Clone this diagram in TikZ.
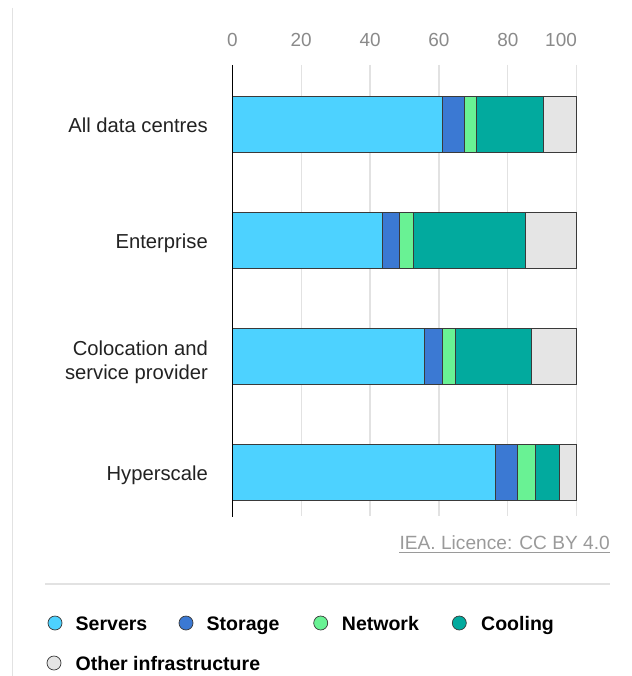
\documentclass[tikz,border=0pt]{standalone}
\usepackage{fontspec}
\setmainfont{Liberation Sans}
\definecolor{cServ}{HTML}{4DD2FF}
\definecolor{cStor}{HTML}{3B79D3}
\definecolor{cNet}{HTML}{69F294}
\definecolor{cCool}{HTML}{02AA9E}
\definecolor{cOther}{HTML}{E5E5E5}
\definecolor{cGrid}{HTML}{E2E2E2}
\definecolor{cTick}{HTML}{8A8A8A}
\definecolor{cLic}{HTML}{9A9A9A}
\definecolor{cTxt}{HTML}{222222}
\definecolor{cEdge}{HTML}{3A3A3A}
\tikzset{
  seg/.style={draw=cEdge, line width=0.9bp},
  gridl/.style={draw=cGrid, line width=1.3bp},
  ticklab/.style={inner sep=0pt, text=cTick, font=\fontsize{19}{22}\selectfont},
  catlab/.style={inner sep=0pt, text=cTxt, anchor=base east, font=\fontsize{20.3}{24}\selectfont},
  leglab/.style={inner sep=0pt, text=black, anchor=base west, font=\bfseries\fontsize{19.6}{22}\selectfont},
  legdot/.style={circle, draw=cEdge, line width=0.7bp, minimum size=14bp, inner sep=0pt},
}
\begin{document}
\begin{tikzpicture}[x=1bp, y=-1bp]
\useasboundingbox[fill=white] (0,0) rectangle (632,676);
% left border
\draw[draw=cGrid, line width=1.3bp] (12.5,8) -- (12.5,676);
% grid lines
\foreach \v in {20,40,60,80,100} {
  \draw[gridl] ({232.3+3.444*\v},65) -- ({232.3+3.444*\v},516);
}
% tick labels
\node[ticklab, anchor=base] (t0) at (232.5,46.7) {0};
\node[ticklab, anchor=base] (t20) at ({232.3+3.444*20},46.7) {20};
\node[ticklab, anchor=base] (t40) at ({232.3+3.444*40},46.7) {40};
\node[ticklab, anchor=base] (t60) at ({232.3+3.444*60},46.7) {60};
\node[ticklab, anchor=base] (t80) at ({232.3+3.444*80},46.7) {80};
\node[ticklab, anchor=base east] (t100) at (577,46.7) {100};
% bars
\foreach \top/\a/\b/\c/\d in {96/61.0/67.3/70.9/90.2, 212/43.6/48.5/52.6/85.1, 328/55.8/61.0/64.8/87.0, 444/76.5/82.7/87.9/94.9} {
  \pgfmathsetmacro\bot{\top+56}
  \filldraw[seg, fill=cServ] (232.3,\top) rectangle ({232.3+3.444*\a},\bot);
  \filldraw[seg, fill=cStor] ({232.3+3.444*\a},\top) rectangle ({232.3+3.444*\b},\bot);
  \filldraw[seg, fill=cNet] ({232.3+3.444*\b},\top) rectangle ({232.3+3.444*\c},\bot);
  \filldraw[seg, fill=cCool] ({232.3+3.444*\c},\top) rectangle ({232.3+3.444*\d},\bot);
  \filldraw[seg, fill=cOther] ({232.3+3.444*\d},\top) rectangle ({232.3+3.444*100},\bot);
}
% axis
\draw[black, line width=1.4bp] (232.3,65) -- (232.3,517);
% category labels
\node[catlab] (lall) at (208,132.7) {All data centres};
\node[catlab] (lent) at (208,248.7) {Enterprise};
\node[catlab] (lcol1) at (208,355) {Colocation and};
\node[catlab] (lcol2) at (208,379) {service provider};
\node[catlab] (lhyp) at (208,480.7) {Hyperscale};
% licence
\node[inner sep=0pt, anchor=base east, text=cLic, font=\fontsize{19.2}{22}\selectfont] (lic) at (610,549.3) {IEA. Licence: CC BY 4.0};
\draw[cLic, line width=1bp] ([yshift=-3.4bp]lic.base west) -- ([yshift=-3.4bp]lic.base east);
% separator
\draw[draw=cGrid, line width=1.3bp] (45,584) -- (610,584);
% legend
\node[legdot, fill=cServ] (d1) at (55,623) {};
\node[leglab] (g1) at (75.5,630) {Servers};
\node[legdot, fill=cStor] (d2) at (186,623) {};
\node[leglab] (g2) at (206.5,630) {Storage};
\node[legdot, fill=cNet] (d3) at (320.7,623) {};
\node[leglab] (g3) at (341.7,630) {Network};
\node[legdot, fill=cCool] (d4) at (459.3,623) {};
\node[leglab] (g4) at (481,630) {Cooling};
\node[legdot, fill=cOther] (d5) at (54,663) {};
\node[leglab] (g5) at (75.5,670) {Other infrastructure};
\end{tikzpicture}
\end{document}
